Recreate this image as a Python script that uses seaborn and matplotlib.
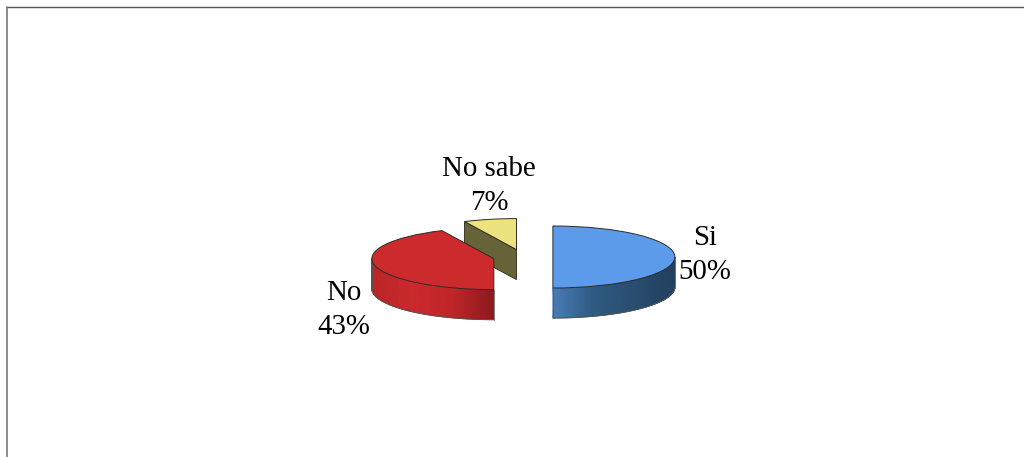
import matplotlib
matplotlib.use("Agg")
import matplotlib.pyplot as plt
import numpy as np
import seaborn as sns
from matplotlib.colors import LinearSegmentedColormap
from matplotlib.lines import Line2D

categories = ["Si", "No", "No sabe"]
shares = [50, 43, 7]
top_colors = ["#5b9be9", "#cd2a2e", "#ece27f"]
side_ramps = [
	["#4a7cb6", "#2f5b82", "#2a4d70", "#223f5e"],
	["#b92528", "#cb292c", "#bf2629", "#8c1a1e"],
	["#666338", "#666338", "#666338", "#666338"],
]
label_pos = [(705, 255), (344, 310), (489, 186)]

W, H = 1024, 457
CX, CY = 523, 257  # centre of the pie in pixels
RX, RY = 122, 31  # squashed radius
DEPTH = 30 / RY

sns.set_theme(style="white")
plt.rcParams["font.family"] = ["Liberation Serif", "DejaVu Serif"]


def px(x, y):
	return (x - CX) / RX, (CY - y) / RY


def draw_side(ax, wedge, ramp):
	# outer wall of the slice, only the part that faces the viewer
	cmap = LinearSegmentedColormap.from_list("side", ramp)
	cx, cy = wedge.center
	lo, hi = wedge.theta1 % 360, wedge.theta2 % 360
	if hi <= lo:
		hi += 360
	lo, hi = max(lo, 180), min(hi, 360)
	if hi <= lo:
		return
	angles = np.radians(np.linspace(lo, hi, 90))
	xs = cx + np.cos(angles)
	ys = cy + np.sin(angles)
	grid_x = np.vstack([xs, xs])
	grid_y = np.vstack([ys - DEPTH, ys])
	shade = (xs - xs.min()) / (xs.max() - xs.min())
	ax.pcolormesh(grid_x, grid_y, np.vstack([shade, shade]), cmap=cmap,
		vmin=0, vmax=1, shading="gouraud", zorder=2)
	ax.plot(xs, ys - DEPTH, color="#555555", lw=0.7, zorder=2.5)
	ax.plot([xs[-1], xs[-1]], [ys[-1], ys[-1] - DEPTH], color="#777777", lw=0.6, zorder=2.5)
	ax.plot([xs[0], xs[0]], [ys[0], ys[0] - DEPTH], color="#555555", lw=0.6, zorder=2.5)


def draw_cut(ax, wedge, color):
	# cut face of the small slice, visible on its left side
	cx, cy = wedge.center
	a = np.radians(wedge.theta2)
	ex, ey = cx + np.cos(a), cy + np.sin(a)
	ax.fill(
		[cx, ex, ex, cx],
		[cy, ey, ey - DEPTH, cy - DEPTH],
		facecolor=color, edgecolor="#3a3a22", lw=0.7, zorder=2,
	)


fig = plt.figure(figsize=(W / 100, H / 100), dpi=100)
ax = fig.add_axes([0, 0, 1, 1])

wedges, _ = ax.pie(
	shares,
	colors=top_colors,
	explode=[0.245] * 3,
	startangle=90,
	counterclock=False,
	wedgeprops={"edgecolor": "#2b2b2b", "linewidth": 0.7},
)
for wedge, ramp in zip(wedges, side_ramps):
	wedge.set_zorder(3)
	draw_side(ax, wedge, ramp)
draw_cut(ax, wedges[2], side_ramps[2][0])

for name, share, (lx, ly) in zip(categories, shares, label_pos):
	x, y = px(lx, ly)
	ax.text(x, y, f"{name}\n{share}%", ha="center", va="center",
		fontsize=20.8, color="black", linespacing=1.36, zorder=4)

ax.set_aspect("auto")
ax.set_xlim(px(0, 0)[0], px(W, 0)[0])
ax.set_ylim(px(0, H)[1], px(0, 0)[1])
ax.axis("off")

# chart frame: only the top and left edges show
fig.add_artist(Line2D([6.5 / W, 1], [1 - 6.5 / H, 1 - 6.5 / H], color="#555555", lw=1.0))
fig.add_artist(Line2D([6.5 / W, 6.5 / W], [0, 1 - 6.5 / H], color="#777777", lw=1.2))

fig.savefig("out.png", dpi=100)
plt.close(fig)
